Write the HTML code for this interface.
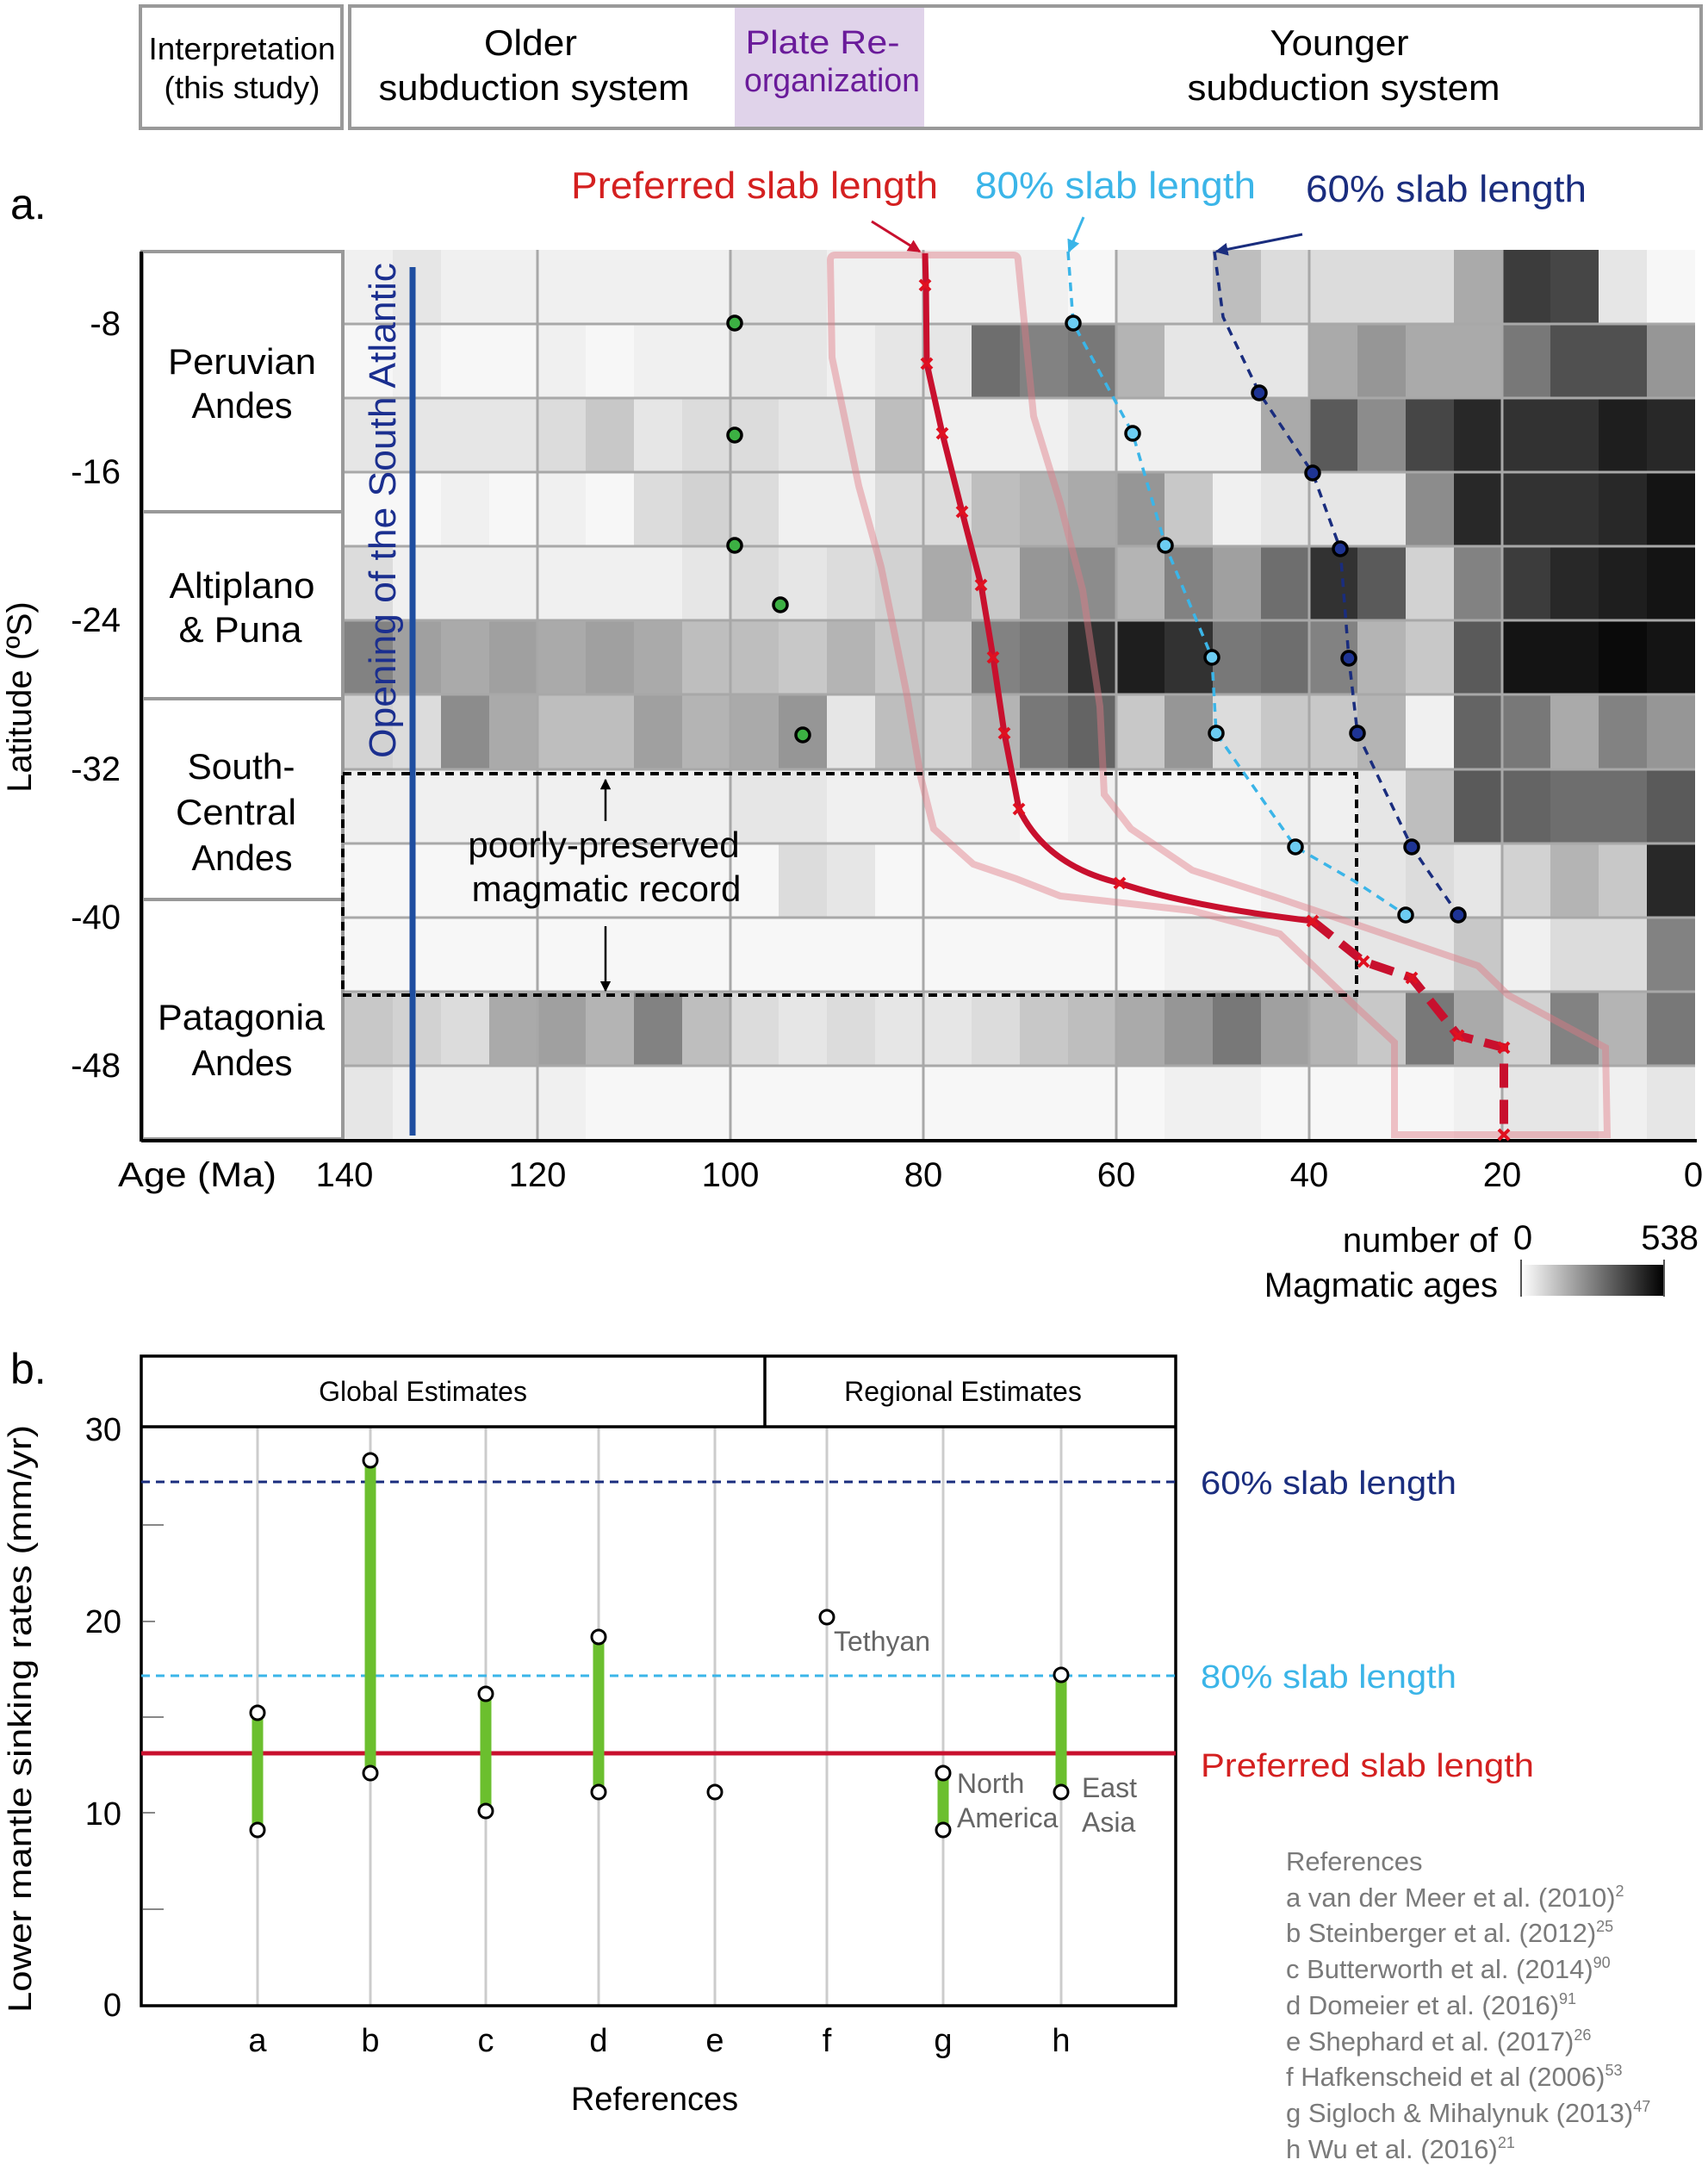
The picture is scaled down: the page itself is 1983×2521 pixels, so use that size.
<!DOCTYPE html>
<html><head><meta charset="utf-8">
<style>
html,body{margin:0;padding:0;background:#fff;}
body{width:1983px;height:2521px;position:relative;overflow:hidden;}
#hm{position:absolute;left:400px;top:290px;width:1568px;height:1033px;display:grid;grid-template-columns:repeat(28,1fr);grid-template-rows:repeat(12,1fr);}
#hm i{display:block;}
.a{background:#000}.b{background:#0a0a0a}.c{background:#141414}.d{background:#1e1e1e}.e{background:#282828}.f{background:#323232}.g{background:#3c3c3c}.h{background:#464646}.i{background:#505050}.j{background:#5a5a5a}.k{background:#646464}.l{background:#6e6e6e}.m{background:#787878}.n{background:#828282}.o{background:#8c8c8c}.p{background:#969696}.q{background:#a0a0a0}.r{background:#aaaaaa}.s{background:#b4b4b4}.t{background:#bebebe}.u{background:#c8c8c8}.v{background:#d2d2d2}.w{background:#dcdcdc}.x{background:#e6e6e6}.y{background:#f0f0f0}.z{background:#f7f7f7}
svg{position:absolute;left:0;top:0;}
text{font-family:"Liberation Sans Narrow","Liberation Sans",sans-serif;}
.s{}
</style></head><body>
<div id="hm">
<i class="y"></i><i class="x"></i><i class="y"></i><i class="y"></i><i class="y"></i><i class="y"></i><i class="y"></i><i class="y"></i><i class="x"></i><i class="x"></i><i class="y"></i><i class="y"></i><i class="y"></i><i class="y"></i><i class="y"></i><i class="z"></i><i class="x"></i><i class="x"></i><i class="t"></i><i class="w"></i><i class="w"></i><i class="w"></i><i class="w"></i><i class="r"></i><i class="g"></i><i class="h"></i><i class="x"></i><i class="z"></i>
<i class="z"></i><i class="y"></i><i class="z"></i><i class="z"></i><i class="y"></i><i class="z"></i><i class="y"></i><i class="y"></i><i class="x"></i><i class="x"></i><i class="y"></i><i class="x"></i><i class="x"></i><i class="l"></i><i class="n"></i><i class="m"></i><i class="s"></i><i class="x"></i><i class="x"></i><i class="x"></i><i class="r"></i><i class="p"></i><i class="r"></i><i class="r"></i><i class="m"></i><i class="i"></i><i class="i"></i><i class="p"></i>
<i class="x"></i><i class="x"></i><i class="x"></i><i class="x"></i><i class="w"></i><i class="u"></i><i class="x"></i><i class="w"></i><i class="w"></i><i class="x"></i><i class="x"></i><i class="t"></i><i class="y"></i><i class="y"></i><i class="y"></i><i class="x"></i><i class="y"></i><i class="y"></i><i class="y"></i><i class="r"></i><i class="j"></i><i class="o"></i><i class="h"></i><i class="e"></i><i class="f"></i><i class="f"></i><i class="d"></i><i class="e"></i>
<i class="z"></i><i class="z"></i><i class="y"></i><i class="z"></i><i class="y"></i><i class="z"></i><i class="w"></i><i class="v"></i><i class="w"></i><i class="y"></i><i class="y"></i><i class="w"></i><i class="w"></i><i class="t"></i><i class="s"></i><i class="r"></i><i class="p"></i><i class="u"></i><i class="y"></i><i class="x"></i><i class="x"></i><i class="x"></i><i class="o"></i><i class="e"></i><i class="f"></i><i class="f"></i><i class="e"></i><i class="c"></i>
<i class="w"></i><i class="y"></i><i class="y"></i><i class="y"></i><i class="y"></i><i class="y"></i><i class="y"></i><i class="x"></i><i class="w"></i><i class="x"></i><i class="w"></i><i class="v"></i><i class="r"></i><i class="u"></i><i class="p"></i><i class="o"></i><i class="s"></i><i class="n"></i><i class="q"></i><i class="l"></i><i class="f"></i><i class="j"></i><i class="v"></i><i class="n"></i><i class="g"></i><i class="e"></i><i class="d"></i><i class="c"></i>
<i class="n"></i><i class="q"></i><i class="r"></i><i class="q"></i><i class="r"></i><i class="q"></i><i class="r"></i><i class="t"></i><i class="t"></i><i class="u"></i><i class="s"></i><i class="u"></i><i class="u"></i><i class="n"></i><i class="m"></i><i class="f"></i><i class="d"></i><i class="f"></i><i class="m"></i><i class="l"></i><i class="n"></i><i class="s"></i><i class="u"></i><i class="j"></i><i class="c"></i><i class="c"></i><i class="b"></i><i class="c"></i>
<i class="v"></i><i class="w"></i><i class="o"></i><i class="r"></i><i class="t"></i><i class="t"></i><i class="q"></i><i class="s"></i><i class="r"></i><i class="p"></i><i class="x"></i><i class="t"></i><i class="v"></i><i class="s"></i><i class="m"></i><i class="k"></i><i class="u"></i><i class="p"></i><i class="w"></i><i class="u"></i><i class="u"></i><i class="s"></i><i class="y"></i><i class="k"></i><i class="m"></i><i class="r"></i><i class="n"></i><i class="p"></i>
<i class="y"></i><i class="y"></i><i class="y"></i><i class="y"></i><i class="y"></i><i class="y"></i><i class="y"></i><i class="y"></i><i class="x"></i><i class="x"></i><i class="y"></i><i class="y"></i><i class="y"></i><i class="y"></i><i class="z"></i><i class="y"></i><i class="z"></i><i class="z"></i><i class="z"></i><i class="y"></i><i class="y"></i><i class="x"></i><i class="t"></i><i class="j"></i><i class="k"></i><i class="l"></i><i class="l"></i><i class="j"></i>
<i class="z"></i><i class="z"></i><i class="z"></i><i class="z"></i><i class="z"></i><i class="z"></i><i class="z"></i><i class="z"></i><i class="z"></i><i class="w"></i><i class="x"></i><i class="z"></i><i class="z"></i><i class="z"></i><i class="z"></i><i class="z"></i><i class="z"></i><i class="z"></i><i class="z"></i><i class="y"></i><i class="x"></i><i class="x"></i><i class="w"></i><i class="x"></i><i class="v"></i><i class="s"></i><i class="u"></i><i class="e"></i>
<i class="z"></i><i class="z"></i><i class="z"></i><i class="z"></i><i class="z"></i><i class="z"></i><i class="z"></i><i class="z"></i><i class="z"></i><i class="z"></i><i class="z"></i><i class="z"></i><i class="z"></i><i class="z"></i><i class="z"></i><i class="z"></i><i class="z"></i><i class="y"></i><i class="y"></i><i class="y"></i><i class="x"></i><i class="x"></i><i class="x"></i><i class="u"></i><i class="y"></i><i class="w"></i><i class="w"></i><i class="n"></i>
<i class="u"></i><i class="v"></i><i class="w"></i><i class="r"></i><i class="q"></i><i class="s"></i><i class="n"></i><i class="t"></i><i class="w"></i><i class="x"></i><i class="w"></i><i class="x"></i><i class="x"></i><i class="w"></i><i class="u"></i><i class="t"></i><i class="r"></i><i class="p"></i><i class="m"></i><i class="q"></i><i class="s"></i><i class="u"></i><i class="m"></i><i class="r"></i><i class="v"></i><i class="n"></i><i class="s"></i><i class="m"></i>
<i class="x"></i><i class="y"></i><i class="y"></i><i class="y"></i><i class="y"></i><i class="z"></i><i class="z"></i><i class="z"></i><i class="z"></i><i class="z"></i><i class="z"></i><i class="z"></i><i class="z"></i><i class="z"></i><i class="z"></i><i class="z"></i><i class="z"></i><i class="y"></i><i class="y"></i><i class="z"></i><i class="z"></i><i class="z"></i><i class="z"></i><i class="y"></i><i class="x"></i><i class="x"></i><i class="y"></i><i class="x"></i>
</div>
<svg width="1983" height="2521" viewBox="0 0 1983 2521" xmlns="http://www.w3.org/2000/svg">
<defs>
<linearGradient id="cb" x1="0" x2="1" y1="0" y2="0"><stop offset="0" stop-color="#fff"/><stop offset="1" stop-color="#000"/></linearGradient>
<marker id="ar" viewBox="0 0 10 10" refX="9" refY="5" markerWidth="6" markerHeight="6" orient="auto"><path d="M0,0 L10,5 L0,10 z" fill="context-stroke"/></marker>
<marker id="ak" viewBox="0 0 10 10" refX="9" refY="5" markerWidth="5" markerHeight="5" orient="auto"><path d="M0,0 L10,5 L0,10 z" fill="#000"/></marker>
<marker id="ared" viewBox="0 0 10 10" refX="9" refY="5" markerWidth="5" markerHeight="5" orient="auto"><path d="M0,0 L10,5 L0,10 z" fill="#c8102e"/></marker>
<marker id="alb" viewBox="0 0 10 10" refX="9" refY="5" markerWidth="5" markerHeight="5" orient="auto"><path d="M0,0 L10,5 L0,10 z" fill="#3bb5e8"/></marker>
<marker id="adb" viewBox="0 0 10 10" refX="9" refY="5" markerWidth="5" markerHeight="5" orient="auto"><path d="M0,0 L10,5 L0,10 z" fill="#1a2d7e"/></marker>
</defs>

<!-- top header boxes -->
<rect x="853" y="8" width="220" height="140" fill="#e0d3ea"/>
<rect x="163" y="7" width="234" height="142" fill="none" stroke="#999" stroke-width="4"/>
<rect x="406" y="7" width="1569" height="142" fill="none" stroke="#999" stroke-width="4"/>
<g font-size="36" text-anchor="middle" fill="#000">
<text x="281" y="69" textLength="217" lengthAdjust="spacingAndGlyphs">Interpretation</text>
<text x="281" y="114" textLength="181" lengthAdjust="spacingAndGlyphs">(this study)</text>
</g>
<g font-size="42" text-anchor="middle" fill="#000">
<text x="616" y="64" textLength="108" lengthAdjust="spacingAndGlyphs">Older</text>
<text x="620" y="116" textLength="361" lengthAdjust="spacingAndGlyphs">subduction system</text>
<text x="1555" y="64" textLength="161" lengthAdjust="spacingAndGlyphs">Younger</text>
<text x="1560" y="116" textLength="363" lengthAdjust="spacingAndGlyphs">subduction system</text>
</g>
<g font-size="38" text-anchor="middle" fill="#6a1b9a">
<text x="955" y="62" textLength="179" lengthAdjust="spacingAndGlyphs">Plate Re-</text>
<text x="966" y="106" textLength="204" lengthAdjust="spacingAndGlyphs">organization</text>
</g>

<text x="12" y="254" font-size="50" font-family="Liberation Sans,sans-serif">a.</text>
<text x="12" y="1606" font-size="50" font-family="Liberation Sans,sans-serif">b.</text>

<!-- slab labels -->
<text x="663" y="230" font-size="44" fill="#d42020" textLength="426" lengthAdjust="spacingAndGlyphs">Preferred slab length</text>
<text x="1132" y="230" font-size="44" fill="#3bb5e8" textLength="326" lengthAdjust="spacingAndGlyphs">80% slab length</text>
<text x="1516" y="234" font-size="44" fill="#1a2d7e" textLength="326" lengthAdjust="spacingAndGlyphs">60% slab length</text>

<!-- grid lines -->
<g stroke="#a8a8a8" stroke-width="3">
<line x1="624" y1="290" x2="624" y2="1323"/><line x1="848" y1="290" x2="848" y2="1323"/><line x1="1072" y1="290" x2="1072" y2="1323"/><line x1="1296" y1="290" x2="1296" y2="1323"/><line x1="1520" y1="290" x2="1520" y2="1323"/><line x1="1744" y1="290" x2="1744" y2="1323"/>
<line x1="400" y1="376" x2="1968" y2="376"/><line x1="400" y1="462" x2="1968" y2="462"/><line x1="400" y1="548" x2="1968" y2="548"/><line x1="400" y1="634" x2="1968" y2="634"/><line x1="400" y1="720" x2="1968" y2="720"/><line x1="400" y1="806" x2="1968" y2="806"/><line x1="400" y1="893" x2="1968" y2="893"/><line x1="400" y1="979" x2="1968" y2="979"/><line x1="400" y1="1065" x2="1968" y2="1065"/><line x1="400" y1="1151" x2="1968" y2="1151"/><line x1="400" y1="1237" x2="1968" y2="1237"/>
</g>

<!-- left region panel -->
<g fill="none" stroke="#999" stroke-width="4">
<rect x="165" y="292" width="233" height="1030"/>
<line x1="165" y1="594" x2="398" y2="594"/><line x1="165" y1="811" x2="398" y2="811"/><line x1="165" y1="1044" x2="398" y2="1044"/>
</g>
<line x1="164" y1="292" x2="164" y2="1325" stroke="#000" stroke-width="4"/>
<line x1="164" y1="1324" x2="1970" y2="1324" stroke="#000" stroke-width="4"/>
<g font-size="42" text-anchor="middle" fill="#000">
<text x="281" y="434" textLength="172" lengthAdjust="spacingAndGlyphs">Peruvian</text>
<text x="281" y="485" textLength="117" lengthAdjust="spacingAndGlyphs">Andes</text>
<text x="281" y="694" textLength="169" lengthAdjust="spacingAndGlyphs">Altiplano</text>
<text x="279" y="745" textLength="143" lengthAdjust="spacingAndGlyphs">&amp; Puna</text>
<text x="280" y="904" textLength="125" lengthAdjust="spacingAndGlyphs">South-</text>
<text x="274" y="957" textLength="140" lengthAdjust="spacingAndGlyphs">Central</text>
<text x="281" y="1010" textLength="117" lengthAdjust="spacingAndGlyphs">Andes</text>
<text x="280" y="1195" textLength="194" lengthAdjust="spacingAndGlyphs">Patagonia</text>
<text x="281" y="1248" textLength="117" lengthAdjust="spacingAndGlyphs">Andes</text>
</g>
<!-- y ticks -->
<g font-size="40" text-anchor="end" fill="#000" font-family="Liberation Sans,sans-serif">
<text x="140" y="389">-8</text><text x="140" y="561">-16</text><text x="140" y="733">-24</text><text x="140" y="906">-32</text><text x="140" y="1078">-40</text><text x="140" y="1250">-48</text>
</g>
<text transform="translate(36,809) rotate(-90)" font-size="40" text-anchor="middle" font-family="Liberation Sans,sans-serif">Latitude (ºS)</text>
<!-- x ticks -->
<g font-size="40" text-anchor="middle" fill="#000" font-family="Liberation Sans,sans-serif">
<text x="400" y="1377">140</text><text x="624" y="1377">120</text><text x="848" y="1377">100</text><text x="1072" y="1377">80</text><text x="1296" y="1377">60</text><text x="1520" y="1377">40</text><text x="1744" y="1377">20</text><text x="1966" y="1377">0</text>
<text x="229" y="1377" textLength="184" lengthAdjust="spacingAndGlyphs">Age (Ma)</text>
</g>

<!-- Opening of the South Atlantic -->
<line x1="479" y1="310" x2="479" y2="1318" stroke="#1f4ea0" stroke-width="7"/>
<text transform="translate(459,880) rotate(-90)" font-size="44" fill="#1b2f8f" textLength="575" lengthAdjust="spacingAndGlyphs" font-family="Liberation Sans,sans-serif">Opening of the South Atlantic</text>

<!-- pink envelope -->
<path d="M970,296 L1176,296 Q1182,296 1182,302 L1200,483 L1231,584 L1257,685 L1277,820 L1282,922 L1313,962 L1384,1010 L1486,1043 L1716,1121 L1751,1155 L1864,1216 L1866,1317 L1619,1317 L1619,1210 L1578,1172 L1486,1084 L1384,1057 L1231,1040 L1180,1020 L1130,1003 L1084,962 L1069,902 L1053,807 L1023,658 L997,564 L966,415 L964,302 Q964,296 970,296 Z" fill="none" stroke="#e07a85" stroke-opacity="0.45" stroke-width="8"/>

<!-- dotted box -->
<rect x="398" y="898" width="1177" height="257" fill="none" stroke="#000" stroke-width="4" stroke-dasharray="10,7"/>
<g font-size="42" text-anchor="middle" font-family="Liberation Sans,sans-serif">
<text x="701" y="995">poorly-preserved</text>
<text x="704" y="1046">magmatic record</text>
</g>
<line x1="703" y1="953" x2="703" y2="905" stroke="#000" stroke-width="2.5" marker-end="url(#ak)"/>
<line x1="703" y1="1075" x2="703" y2="1150" stroke="#000" stroke-width="2.5" marker-end="url(#ak)"/>

<!-- arrows from labels -->
<line x1="1012" y1="257" x2="1068" y2="292" stroke="#c8102e" stroke-width="3" marker-end="url(#ared)"/>
<line x1="1258" y1="252" x2="1241" y2="292" stroke="#3bb5e8" stroke-width="3" marker-end="url(#alb)"/>
<line x1="1512" y1="272" x2="1412" y2="292" stroke="#1a2d7e" stroke-width="3" marker-end="url(#adb)"/>

<!-- red preferred -->
<path d="M1074,294 L1075,331 L1076,422 L1094,503 L1117,594 L1139,679 L1153,763 L1166,851 L1183,939 Q1215,1005 1300,1025 Q1380,1052 1524,1069" fill="none" stroke="#c8102e" stroke-width="7"/>
<path d="M1524,1069 L1583,1116 L1639,1135 L1693,1202 L1746,1216 L1746,1317" fill="none" stroke="#c8102e" stroke-width="10" stroke-dasharray="28,14"/>
<g stroke="#e01020" stroke-width="4">
<path d="M1068,325 l12,12 m0,-12 l-12,12"/><path d="M1070,416 l12,12 m0,-12 l-12,12"/><path d="M1088,497 l12,12 m0,-12 l-12,12"/><path d="M1111,588 l12,12 m0,-12 l-12,12"/><path d="M1133,673 l12,12 m0,-12 l-12,12"/><path d="M1147,757 l12,12 m0,-12 l-12,12"/><path d="M1160,845 l12,12 m0,-12 l-12,12"/><path d="M1177,933 l12,12 m0,-12 l-12,12"/><path d="M1294,1019 l12,12 m0,-12 l-12,12"/><path d="M1518,1063 l12,12 m0,-12 l-12,12"/><path d="M1577,1110 l12,12 m0,-12 l-12,12"/><path d="M1633,1129 l12,12 m0,-12 l-12,12"/><path d="M1687,1196 l12,12 m0,-12 l-12,12"/><path d="M1740,1210 l12,12 m0,-12 l-12,12"/><path d="M1740,1311 l12,12 m0,-12 l-12,12"/>
</g>

<!-- light blue 80% -->
<path d="M1240,292 L1246,375 L1315,503 L1353,633 L1407,763 L1412,851 L1504,983 L1573,1023 L1632,1062" fill="none" stroke="#3bb5e8" stroke-width="3.5" stroke-dasharray="10,8"/>
<g fill="#6cccf2" stroke="#000" stroke-width="3.5">
<circle cx="1246" cy="375" r="8"/><circle cx="1315" cy="503" r="8"/><circle cx="1353" cy="633" r="8"/><circle cx="1407" cy="763" r="8"/><circle cx="1412" cy="851" r="8"/><circle cx="1504" cy="983" r="8"/><circle cx="1632" cy="1062" r="8"/>
</g>
<!-- dark blue 60% -->
<path d="M1410,292 L1420,368 L1462,456 L1524,549 L1556,637 L1566,764 L1576,851 L1639,983 L1693,1062" fill="none" stroke="#1a2d7e" stroke-width="3.5" stroke-dasharray="10,8"/>
<g fill="#1e3494" stroke="#000" stroke-width="3.5">
<circle cx="1462" cy="456" r="8"/><circle cx="1524" cy="549" r="8"/><circle cx="1556" cy="637" r="8"/><circle cx="1566" cy="764" r="8"/><circle cx="1576" cy="851" r="8"/><circle cx="1639" cy="983" r="8"/><circle cx="1693" cy="1062" r="8"/>
</g>
<!-- green -->
<g fill="#3cb043" stroke="#000" stroke-width="3.5">
<circle cx="853" cy="375" r="8"/><circle cx="853" cy="505" r="8"/><circle cx="853" cy="633" r="8"/><circle cx="906" cy="702" r="8"/><circle cx="932" cy="853" r="8"/>
</g>

<!-- colorbar -->
<text x="1739" y="1453" font-size="40" text-anchor="end" font-family="Liberation Sans,sans-serif">number of</text>
<text x="1739" y="1505" font-size="40" text-anchor="end" font-family="Liberation Sans,sans-serif">Magmatic ages</text>
<text x="1768" y="1450" font-size="40" text-anchor="middle" font-family="Liberation Sans,sans-serif">0</text>
<text x="1972" y="1450" font-size="40" text-anchor="end" font-family="Liberation Sans,sans-serif">538</text>
<rect x="1766" y="1468" width="166" height="36" fill="url(#cb)"/>
<line x1="1766" y1="1462" x2="1766" y2="1505" stroke="#555" stroke-width="2"/>
<line x1="1932" y1="1462" x2="1932" y2="1505" stroke="#555" stroke-width="2"/>

<!-- PART B -->
<g stroke="#ccc" stroke-width="3">
<line x1="299" y1="1656" x2="299" y2="2328"/><line x1="430" y1="1656" x2="430" y2="2328"/><line x1="564" y1="1656" x2="564" y2="2328"/><line x1="695" y1="1656" x2="695" y2="2328"/><line x1="830" y1="1656" x2="830" y2="2328"/><line x1="960" y1="1656" x2="960" y2="2328"/><line x1="1095" y1="1656" x2="1095" y2="2328"/><line x1="1232" y1="1656" x2="1232" y2="2328"/>
</g>
<g stroke="#888" stroke-width="2">
<line x1="166" y1="1770" x2="190" y2="1770"/><line x1="166" y1="1993" x2="190" y2="1993"/><line x1="166" y1="2216" x2="190" y2="2216"/>
<line x1="166" y1="1882" x2="180" y2="1882"/><line x1="166" y1="2104" x2="180" y2="2104"/>
</g>
<rect x="164" y="1574" width="1201" height="754" fill="none" stroke="#000" stroke-width="3.5"/>
<line x1="164" y1="1656" x2="1365" y2="1656" stroke="#000" stroke-width="3.5"/>
<line x1="888" y1="1574" x2="888" y2="1656" stroke="#000" stroke-width="3.5"/>
<text x="491" y="1626" font-size="32" text-anchor="middle" font-family="Liberation Sans,sans-serif">Global Estimates</text>
<text x="1118" y="1626" font-size="32" text-anchor="middle" font-family="Liberation Sans,sans-serif">Regional Estimates</text>

<line x1="164" y1="1720" x2="1365" y2="1720" stroke="#1a2d7e" stroke-width="3" stroke-dasharray="10,7"/>
<line x1="164" y1="1945" x2="1365" y2="1945" stroke="#3bb5e8" stroke-width="3" stroke-dasharray="10,7"/>
<line x1="164" y1="2035" x2="1365" y2="2035" stroke="#c8102e" stroke-width="5"/>

<g stroke="#6bbf2e" stroke-width="13">
<line x1="299" y1="2124" x2="299" y2="1991"/><line x1="430" y1="2058" x2="430" y2="1697"/><line x1="564" y1="2102" x2="564" y2="1968"/><line x1="695" y1="2080" x2="695" y2="1902"/><line x1="1095" y1="2124" x2="1095" y2="2058"/><line x1="1232" y1="2080" x2="1232" y2="1946"/>
</g>
<g fill="#fff" stroke="#000" stroke-width="3">
<circle cx="299" cy="2124" r="8"/><circle cx="299" cy="1988" r="8"/><circle cx="430" cy="2058" r="8"/><circle cx="430" cy="1695" r="8"/><circle cx="564" cy="2102" r="8"/><circle cx="564" cy="1966" r="8"/><circle cx="695" cy="2080" r="8"/><circle cx="695" cy="1900" r="8"/><circle cx="830" cy="2080" r="8"/><circle cx="960" cy="1877" r="8"/><circle cx="1095" cy="2124" r="8"/><circle cx="1095" cy="2058" r="8"/><circle cx="1232" cy="2080" r="8"/><circle cx="1232" cy="1944" r="8"/>
</g>
<g font-size="32" fill="#666" font-family="Liberation Sans,sans-serif">
<text x="968" y="1916">Tethyan</text>
<text x="1111" y="2081">North</text><text x="1111" y="2121">America</text>
<text x="1256" y="2086">East</text><text x="1256" y="2126">Asia</text>
</g>
<g font-size="38" text-anchor="end" font-family="Liberation Sans,sans-serif">
<text x="141" y="1672">30</text><text x="141" y="1895">20</text><text x="141" y="2118">10</text><text x="141" y="2340">0</text>
</g>
<text transform="translate(36,1995) rotate(-90)" font-size="38" text-anchor="middle" font-family="Liberation Sans,sans-serif" textLength="682" lengthAdjust="spacingAndGlyphs">Lower mantle sinking rates (mm/yr)</text>
<g font-size="38" text-anchor="middle" font-family="Liberation Sans,sans-serif">
<text x="299" y="2381">a</text><text x="430" y="2381">b</text><text x="564" y="2381">c</text><text x="695" y="2381">d</text><text x="830" y="2381">e</text><text x="960" y="2381">f</text><text x="1095" y="2381">g</text><text x="1232" y="2381">h</text>
<text x="760" y="2449">References</text>
</g>
<g font-size="38" font-family="Liberation Sans,sans-serif">
<text x="1394" y="1734" fill="#1a2d7e" textLength="297" lengthAdjust="spacingAndGlyphs">60% slab length</text>
<text x="1394" y="1959" fill="#3bb5e8" textLength="297" lengthAdjust="spacingAndGlyphs">80% slab length</text>
<text x="1394" y="2062" fill="#d42020" textLength="387" lengthAdjust="spacingAndGlyphs">Preferred slab length</text>
</g>
<g font-size="31" fill="#7a7a7a" font-family="Liberation Sans,sans-serif">
<text x="1493" y="2171">References</text>
<text x="1493" y="2213">a van der Meer et al. (2010)<tspan font-size="18" dy="-12">2</tspan></text>
<text x="1493" y="2254">b Steinberger et al. (2012)<tspan font-size="18" dy="-12">25</tspan></text>
<text x="1493" y="2296">c Butterworth et al. (2014)<tspan font-size="18" dy="-12">90</tspan></text>
<text x="1493" y="2338">d Domeier et al. (2016)<tspan font-size="18" dy="-12">91</tspan></text>
<text x="1493" y="2380">e Shephard et al. (2017)<tspan font-size="18" dy="-12">26</tspan></text>
<text x="1493" y="2421">f Hafkenscheid et al (2006)<tspan font-size="18" dy="-12">53</tspan></text>
<text x="1493" y="2463">g Sigloch &amp; Mihalynuk (2013)<tspan font-size="18" dy="-12">47</tspan></text>
<text x="1493" y="2505">h Wu et al. (2016)<tspan font-size="18" dy="-12">21</tspan></text>
</g>
</svg>
</body></html>
